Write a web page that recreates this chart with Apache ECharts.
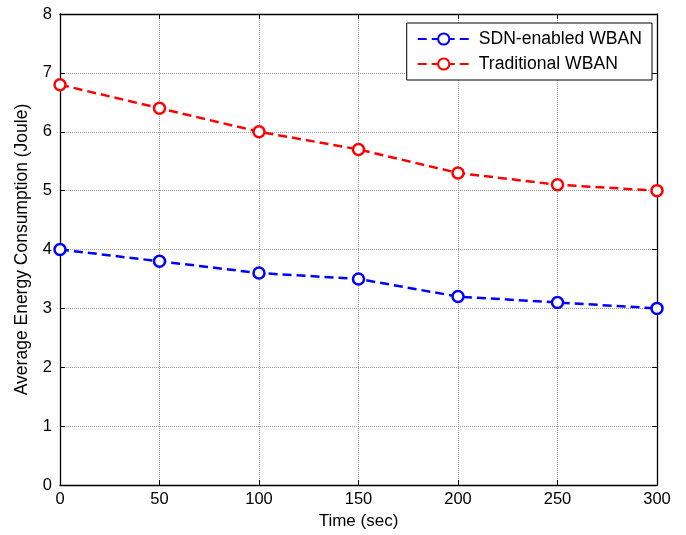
<!DOCTYPE html>
<html><head><meta charset="utf-8">
<script src="https://cdn.jsdelivr.net/npm/echarts@6/dist/echarts.min.js"></script>
<style>html,body{margin:0;padding:0;background:#fff}#c{width:686px;height:535px}</style>
</head><body><div id="c"></div>
<script>
const times = [0, 50, 100, 150, 200, 250, 300];
const sdnValues = [4.0, 3.8, 3.6, 3.5, 3.2, 3.1, 3.0];
const tradValues = [6.8, 6.4, 6.0, 5.7, 5.3, 5.1, 5.0];
const seriesNames = ['SDN-enabled WBAN', 'Traditional WBAN'];
const xTitle = 'Time (sec)';
const yTitle = 'Average Energy Consumption (Joule)';

const font = 'Liberation Sans, Arial, sans-serif';
const chart = echarts.init(document.getElementById('c'));
const axisCommon = {
  axisLine: {show: true, onZero: false, lineStyle: {color: '#000', width: 1.3}},
  axisTick: {show: true, inside: true, length: 5, lineStyle: {color: '#000'}},
};
function mk(name, vals, color) {
  return {
    name: name, type: 'line',
    data: times.map((t, i) => [t, vals[i]]),
    symbol: 'circle', symbolSize: 11, showSymbol: true,
    itemStyle: {color: '#fff', borderColor: color, borderWidth: 2.5},
    lineStyle: {color: color, width: 2.5, type: [9, 5]},
    color: color,
    animation: false
  };
}
chart.setOption({
  animation: false,
  textStyle: {fontFamily: font},
  grid: {left: 60, right: 29, top: 14, bottom: 50},
  legend: {
    right: 34, top: 23, orient: 'vertical', itemWidth: 52, itemHeight: 14, itemGap: 7,
    padding: [7, 10, 7, 10],
    borderColor: '#000', borderWidth: 1, backgroundColor: '#fff',
    textStyle: {fontSize: 17.6, lineHeight: 18, color: '#000', fontFamily: font, padding: [0, 0, 0, 4]},
    data: seriesNames
  },
  xAxis: [
    Object.assign({type: 'value', min: 0, max: 300, interval: 50,
      name: xTitle, nameLocation: 'middle', nameGap: 28,
      nameTextStyle: {fontSize: 17, color: '#000'},
      axisLabel: {fontSize: 16.5, color: '#000', margin: 6},
      splitLine: {show: true, lineStyle: {color: '#999', width: 1, type: [1, 1]}}}, axisCommon),
    Object.assign({type: 'value', min: 0, max: 300, interval: 50, position: 'top',
      axisLabel: {show: false}, splitLine: {show: false}}, axisCommon)
  ],
  yAxis: [
    Object.assign({type: 'value', min: 0, max: 8, interval: 1,
      name: yTitle, nameLocation: 'middle', nameGap: 29,
      nameTextStyle: {fontSize: 17.5, color: '#000'},
      axisLabel: {fontSize: 16.5, color: '#000', margin: 8},
      splitLine: {show: true, lineStyle: {color: '#999', width: 1, type: [1, 1]}}}, axisCommon),
    Object.assign({type: 'value', min: 0, max: 8, interval: 1, position: 'right',
      axisLabel: {show: false}, splitLine: {show: false}}, axisCommon)
  ],
  series: [mk(seriesNames[0], sdnValues, '#0000ff'), mk(seriesNames[1], tradValues, '#ff0000')]
});
</script></body></html>
